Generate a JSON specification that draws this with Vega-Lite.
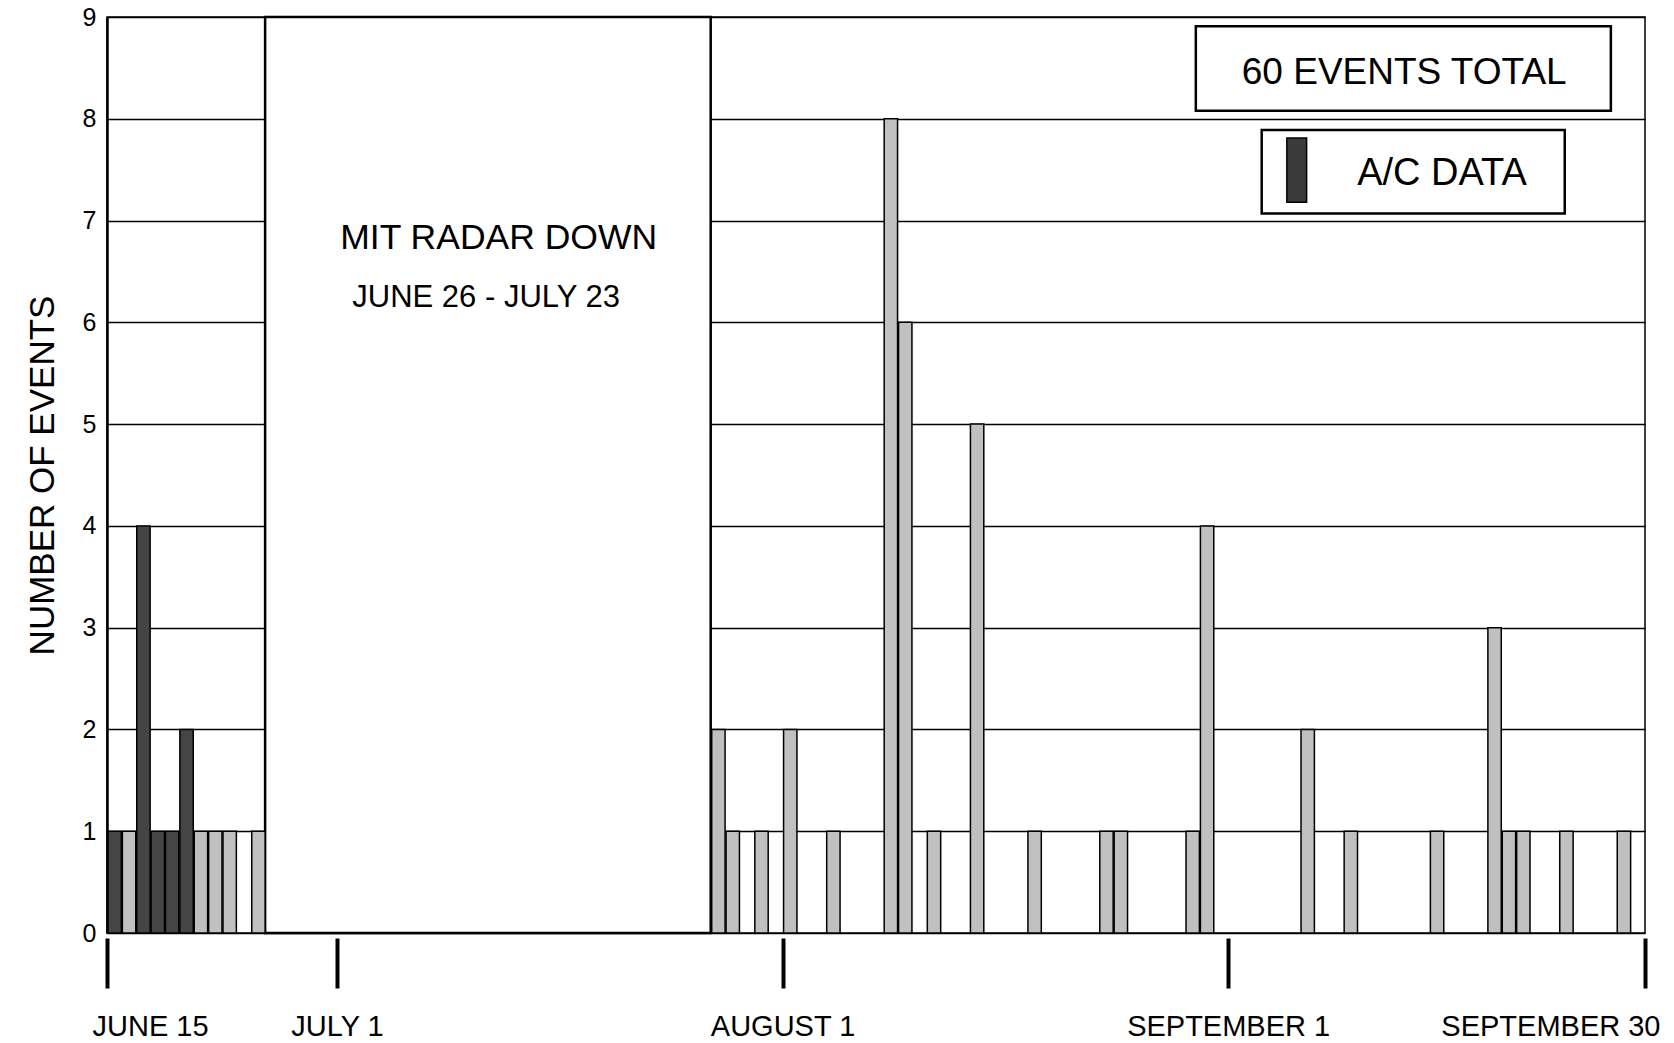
{
  "$schema": "https://vega.github.io/schema/vega-lite/v6.json",
  "width": 1538,
  "height": 916,
  "autosize": "none",
  "padding": {"left": 107, "top": 17, "right": 29, "bottom": 110},
  "background": "white",
  "config": {
    "view": {"stroke": "black", "strokeWidth": 1.5},
    "font": "Liberation Sans",
    "axisX": {"domain": false, "grid": false, "ticks": true, "tickColor": "black", "tickWidth": 4, "tickSize": 50, "offset": 5, "labelFont": "Liberation Sans", "labelFontSize": 29, "labelColor": "black", "labelPadding": 24, "labelFlush": true, "labelFlushOffset": 15, "labelOverlap": false, "labelLimit": 500},
    "axisY": {"grid": true, "gridColor": "black", "gridWidth": 1.5, "gridOpacity": 1, "domain": true, "domainColor": "black", "domainWidth": 2.5, "ticks": false, "labelFont": "Liberation Sans", "labelFontSize": 25, "labelColor": "black", "labelPadding": 11, "titleFont": "Liberation Sans", "titleFontSize": 35, "titleFontWeight": "normal", "titleColor": "black", "titlePadding": 22}
  },
  "layer": [
    {
      "data": {"values": [{"start": "1990-06-26", "end": "1990-07-27", "lo": 0, "hi": 9}]},
      "mark": {"type": "rect", "fill": "white", "stroke": "black", "strokeWidth": 2.5},
      "encoding": {
        "x": {"field": "start", "type": "temporal", "title": null, "scale": {"type": "utc", "domain": [{"year": 1990, "month": "June", "date": 15, "utc": true}, {"year": 1990, "month": "September", "date": 30, "utc": true}]}},
        "x2": {"field": "end"},
        "y": {"field": "lo", "type": "quantitative", "title": "NUMBER OF EVENTS", "scale": {"domain": [0, 9], "nice": false}},
        "y2": {"field": "hi"}
      }
    },
    {
      "data": {"values": [
        {"date": "1990-06-15", "count": 1, "type": "A/C DATA"},
        {"date": "1990-06-16", "count": 1, "type": "OTHER"},
        {"date": "1990-06-17", "count": 4, "type": "A/C DATA"},
        {"date": "1990-06-18", "count": 1, "type": "A/C DATA"},
        {"date": "1990-06-19", "count": 1, "type": "A/C DATA"},
        {"date": "1990-06-20", "count": 2, "type": "A/C DATA"},
        {"date": "1990-06-21", "count": 1, "type": "OTHER"},
        {"date": "1990-06-22", "count": 1, "type": "OTHER"},
        {"date": "1990-06-23", "count": 1, "type": "OTHER"},
        {"date": "1990-06-25", "count": 1, "type": "OTHER"},
        {"date": "1990-07-27", "count": 2, "type": "OTHER"},
        {"date": "1990-07-28", "count": 1, "type": "OTHER"},
        {"date": "1990-07-30", "count": 1, "type": "OTHER"},
        {"date": "1990-08-01", "count": 2, "type": "OTHER"},
        {"date": "1990-08-04", "count": 1, "type": "OTHER"},
        {"date": "1990-08-08", "count": 8, "type": "OTHER"},
        {"date": "1990-08-09", "count": 6, "type": "OTHER"},
        {"date": "1990-08-11", "count": 1, "type": "OTHER"},
        {"date": "1990-08-14", "count": 5, "type": "OTHER"},
        {"date": "1990-08-18", "count": 1, "type": "OTHER"},
        {"date": "1990-08-23", "count": 1, "type": "OTHER"},
        {"date": "1990-08-24", "count": 1, "type": "OTHER"},
        {"date": "1990-08-29", "count": 1, "type": "OTHER"},
        {"date": "1990-08-30", "count": 4, "type": "OTHER"},
        {"date": "1990-09-06", "count": 2, "type": "OTHER"},
        {"date": "1990-09-09", "count": 1, "type": "OTHER"},
        {"date": "1990-09-15", "count": 1, "type": "OTHER"},
        {"date": "1990-09-19", "count": 3, "type": "OTHER"},
        {"date": "1990-09-20", "count": 1, "type": "OTHER"},
        {"date": "1990-09-21", "count": 1, "type": "OTHER"},
        {"date": "1990-09-24", "count": 1, "type": "OTHER"},
        {"date": "1990-09-28", "count": 1, "type": "OTHER"}
      ]},
      "mark": {"type": "bar", "stroke": "black", "strokeWidth": 1.5},
      "encoding": {
        "x": {
          "field": "date", "type": "temporal", "timeUnit": "utcyearmonthdate", "title": null,
          "scale": {"type": "utc", "domain": [{"year": 1990, "month": "June", "date": 15, "utc": true}, {"year": 1990, "month": "September", "date": 30, "utc": true}]},
          "axis": {
            "values": [
              {"year": 1990, "month": "June", "date": 15, "utc": true},
              {"year": 1990, "month": "July", "date": 1, "utc": true},
              {"year": 1990, "month": "August", "date": 1, "utc": true},
              {"year": 1990, "month": "September", "date": 1, "utc": true},
              {"year": 1990, "month": "September", "date": 30, "utc": true}
            ],
            "labelExpr": "upper(utcFormat(datum.value, '%B %-d'))"
          }
        },
        "y": {
          "field": "count", "type": "quantitative", "title": "NUMBER OF EVENTS",
          "scale": {"domain": [0, 9], "nice": false},
          "axis": {"values": [0, 1, 2, 3, 4, 5, 6, 7, 8, 9], "format": "d"}
        },
        "fill": {"field": "type", "type": "nominal", "scale": {"domain": ["A/C DATA", "OTHER"], "range": ["#454545", "#c0c0c0"]}, "legend": null}
      }
    },
    {
      "data": {"values": [
        {"x1": "1990-08-29T18:00:00Z", "x2": "1990-09-27T15:00:00Z", "y1": 8.08, "y2": 8.91},
        {"x1": "1990-09-03T08:00:00Z", "x2": "1990-09-24T10:00:00Z", "y1": 7.07, "y2": 7.89}
      ]},
      "mark": {"type": "rect", "fill": "white", "stroke": "black", "strokeWidth": 2.5},
      "encoding": {
        "x": {"field": "x1", "type": "temporal", "title": null, "scale": {"type": "utc", "domain": [{"year": 1990, "month": "June", "date": 15, "utc": true}, {"year": 1990, "month": "September", "date": 30, "utc": true}]}},
        "x2": {"field": "x2"},
        "y": {"field": "y1", "type": "quantitative", "title": "NUMBER OF EVENTS", "scale": {"domain": [0, 9], "nice": false}},
        "y2": {"field": "y2"}
      }
    },
    {
      "data": {"values": [
        {"x1": "1990-09-05T02:00:00Z", "x2": "1990-09-06T11:00:00Z", "y1": 7.18, "y2": 7.81}
      ]},
      "mark": {"type": "rect", "fill": "#3a3a3a", "stroke": "black", "strokeWidth": 1.5},
      "encoding": {
        "x": {"field": "x1", "type": "temporal", "title": null, "scale": {"type": "utc", "domain": [{"year": 1990, "month": "June", "date": 15, "utc": true}, {"year": 1990, "month": "September", "date": 30, "utc": true}]}},
        "x2": {"field": "x2"},
        "y": {"field": "y1", "type": "quantitative", "title": "NUMBER OF EVENTS", "scale": {"domain": [0, 9], "nice": false}},
        "y2": {"field": "y2"}
      }
    },
    {
      "data": {"values": [
        {"x": "1990-09-13T06:00:00Z", "y": 8.45, "label": "60 EVENTS TOTAL"}
      ]},
      "mark": {"type": "text", "font": "Liberation Sans", "fontSize": 37, "color": "black", "align": "center", "baseline": "middle"},
      "encoding": {
        "x": {"field": "x", "type": "temporal", "title": null, "scale": {"type": "utc", "domain": [{"year": 1990, "month": "June", "date": 15, "utc": true}, {"year": 1990, "month": "September", "date": 30, "utc": true}]}},
        "y": {"field": "y", "type": "quantitative", "title": "NUMBER OF EVENTS", "scale": {"domain": [0, 9], "nice": false}},
        "text": {"field": "label"}
      }
    },
    {
      "data": {"values": [
        {"x": "1990-09-15T21:00:00Z", "y": 7.46, "label": "A/C DATA"}
      ]},
      "mark": {"type": "text", "font": "Liberation Sans", "fontSize": 38, "color": "black", "align": "center", "baseline": "middle"},
      "encoding": {
        "x": {"field": "x", "type": "temporal", "title": null, "scale": {"type": "utc", "domain": [{"year": 1990, "month": "June", "date": 15, "utc": true}, {"year": 1990, "month": "September", "date": 30, "utc": true}]}},
        "y": {"field": "y", "type": "quantitative", "title": "NUMBER OF EVENTS", "scale": {"domain": [0, 9], "nice": false}},
        "text": {"field": "label"}
      }
    },
    {
      "data": {"values": [
        {"x": "1990-07-12T06:00:00Z", "y": 6.83, "label": "MIT RADAR DOWN"}
      ]},
      "mark": {"type": "text", "font": "Liberation Sans", "fontSize": 35.5, "color": "black", "align": "center", "baseline": "middle"},
      "encoding": {
        "x": {"field": "x", "type": "temporal", "title": null, "scale": {"type": "utc", "domain": [{"year": 1990, "month": "June", "date": 15, "utc": true}, {"year": 1990, "month": "September", "date": 30, "utc": true}]}},
        "y": {"field": "y", "type": "quantitative", "title": "NUMBER OF EVENTS", "scale": {"domain": [0, 9], "nice": false}},
        "text": {"field": "label"}
      }
    },
    {
      "data": {"values": [
        {"x": "1990-07-11T09:00:00Z", "y": 6.24, "label": "JUNE 26 - JULY 23"}
      ]},
      "mark": {"type": "text", "font": "Liberation Sans", "fontSize": 31, "color": "black", "align": "center", "baseline": "middle"},
      "encoding": {
        "x": {"field": "x", "type": "temporal", "title": null, "scale": {"type": "utc", "domain": [{"year": 1990, "month": "June", "date": 15, "utc": true}, {"year": 1990, "month": "September", "date": 30, "utc": true}]}},
        "y": {"field": "y", "type": "quantitative", "title": "NUMBER OF EVENTS", "scale": {"domain": [0, 9], "nice": false}},
        "text": {"field": "label"}
      }
    }
  ]
}
